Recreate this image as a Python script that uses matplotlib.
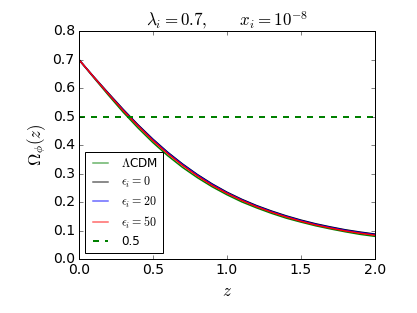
import matplotlib
matplotlib.use("Agg")
import matplotlib.pyplot as plt

plt.style.use("classic")
plt.rcParams["mathtext.fontset"] = "cm"

# values (z grid 0.0 .. 2.0, step 0.1)
z = [0.0, 0.1, 0.2, 0.3, 0.4, 0.5, 0.6, 0.7, 0.8, 0.9, 1.0,
     1.1, 1.2, 1.3, 1.4, 1.5, 1.6, 1.7, 1.8, 1.9, 2.0]
om_lcdm = [0.700, 0.637, 0.575, 0.515, 0.460, 0.409, 0.363, 0.322, 0.286, 0.254, 0.226,
           0.201, 0.180, 0.161, 0.144, 0.130, 0.117, 0.106, 0.096, 0.087, 0.080]
om_eps0 = [0.700, 0.640, 0.582, 0.525, 0.471, 0.421, 0.375, 0.334, 0.297, 0.264, 0.235,
           0.210, 0.188, 0.169, 0.152, 0.137, 0.124, 0.113, 0.103, 0.095, 0.088]
om_eps20 = [0.700, 0.639, 0.580, 0.523, 0.469, 0.419, 0.373, 0.332, 0.295, 0.262, 0.233,
            0.208, 0.186, 0.167, 0.150, 0.135, 0.122, 0.111, 0.101, 0.093, 0.086]
om_eps50 = [0.700, 0.639, 0.579, 0.521, 0.467, 0.416, 0.370, 0.329, 0.292, 0.259, 0.231,
            0.206, 0.184, 0.165, 0.148, 0.133, 0.120, 0.109, 0.099, 0.091, 0.084]
ref_level = 0.5

fig = plt.figure(figsize=(417 / 72, 313 / 72), dpi=72, facecolor="white")
ax = fig.add_axes([0.189, 0.172, 0.710, 0.729])

ax.plot(z, om_lcdm, color="green", lw=1.5, label=r"$\Lambda$CDM")
ax.plot(z, om_eps0, color="black", lw=1.5, label=r"$\epsilon_i=0$")
ax.plot(z, om_eps20, color="blue", lw=1.5, label=r"$\epsilon_i=20$")
ax.plot(z, om_eps50, color="red", lw=1.5, label=r"$\epsilon_i=50$")
ax.axhline(ref_level, color="green", ls="--", lw=2, label="0.5")

ax.set_xlim(0, 2)
ax.set_ylim(0, 0.8)
ax.set_xticks([0.0, 0.5, 1.0, 1.5, 2.0])
ax.set_yticks([0.0, 0.1, 0.2, 0.3, 0.4, 0.5, 0.6, 0.7, 0.8])
ax.tick_params(labelsize=14)
ax.set_xlabel(r"$z$", fontsize=17)
ax.set_ylabel(r"$\Omega_\phi(z)$", fontsize=17)
ax.set_title(r"$\lambda_i=0.7,\qquad x_i=10^{-8}$", fontsize=17)

leg = ax.legend(loc="lower left", fontsize=12, handlelength=1.8, labelspacing=0.4)
for h in leg.legend_handles[:4]:
    h.set_alpha(0.6)

fig.savefig("out.png", dpi=72, facecolor="white")
